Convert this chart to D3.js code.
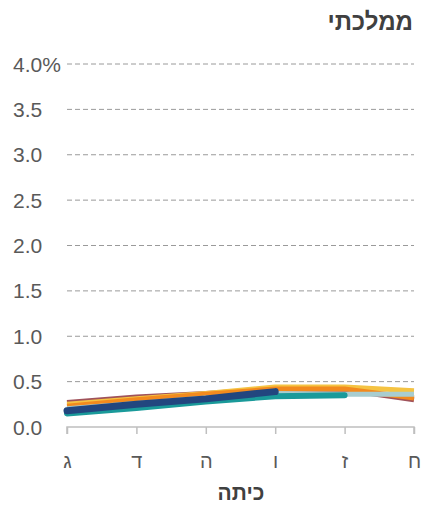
<!DOCTYPE html>
<html><head><meta charset="utf-8">
<script src="https://cdn.jsdelivr.net/npm/d3@7"></script>
<style>body{margin:0;background:#fff;font-family:"Liberation Sans",Arial,sans-serif;}</style>
</head><body><svg id="c" width="427" height="510"></svg>
<script>
const categories = ["ג","ד","ה","ו","ז","ח"];
const yTicks = [0,0.5,1,1.5,2,2.5,3,3.5,4];
const s1 = [0.27,0.33,0.37,0.42,0.41,0.30];
const s2 = [0.25,0.31,0.37,0.44,0.44,0.40];
const s3 = [0.23,0.30,0.36,0.42,0.42,0.32];
const s4 = [0.20,0.26,0.32,0.37,0.36,0.36];
const s5 = [0.15,0.21,0.28,0.34,0.35];
const s6 = [0.18,0.25,0.31,0.39];
const colors = ["#a0525a","#f5c342","#f28a1e","#a8cdd0","#1a9a9a","#22467f"];
const widths = [5,5,5,5,6,7];
const title = "ממלכתי";
const xTitle = "כיתה";

const svg = d3.select("#c");
const L=67,R=414,T=64,B=427;
const x = d3.scalePoint().domain(categories).range([L,R]);
const y = d3.scaleLinear().domain([0,4]).range([B,T]);

svg.append("g").selectAll("line").data(yTicks.filter(d=>d>0)).join("line")
 .attr("x1",L).attr("x2",R).attr("y1",d=>y(d)).attr("y2",d=>y(d))
 .attr("stroke","#9a9a9a").attr("stroke-dasharray","5,3").attr("stroke-width",1);

svg.append("g").selectAll("text").data(yTicks).join("text")
 .attr("x",13).attr("y",d=>y(d)).attr("dy","0.36em")
 .attr("font-size",21).attr("fill","#595959")
 .text(d=>d===4? d.toFixed(1)+"%" : d.toFixed(1));

const xa = svg.append("g").attr("transform",`translate(0,${B})`)
 .call(d3.axisBottom(x).tickSize(7).tickPadding(20));
xa.select(".domain").attr("stroke","#bfbfbf").attr("stroke-width",1.5);
xa.selectAll(".tick line").attr("stroke","#bfbfbf").attr("stroke-width",1.5);
xa.selectAll(".tick text").attr("font-size",20).attr("fill","#595959")
 .attr("font-family","Liberation Sans, Arial, sans-serif");
xa.select(".domain").attr("d",`M${L},7V0H${R}V7`);

const data = [s1,s2,s3,s4,s5,s6];
const line = d3.line().x((d,i)=>x(categories[i])).y(d=>y(d));
svg.append("g").selectAll("path").data(data).join("path")
 .attr("d",d=>line(d)).attr("fill","none")
 .attr("stroke",(d,i)=>colors[i]).attr("stroke-width",(d,i)=>widths[i])
 .attr("stroke-linecap",(d,i)=>i>=4?"round":"butt").attr("stroke-linejoin","round");

svg.append("text").attr("x",413).attr("y",30).attr("text-anchor","end")
 .attr("font-size",24).attr("font-weight","bold").attr("fill","#404040").text(title);
svg.append("text").attr("x",241).attr("y",500).attr("text-anchor","middle")
 .attr("font-size",21).attr("font-weight","bold").attr("fill","#404040").text(xTitle);
</script></body></html>
